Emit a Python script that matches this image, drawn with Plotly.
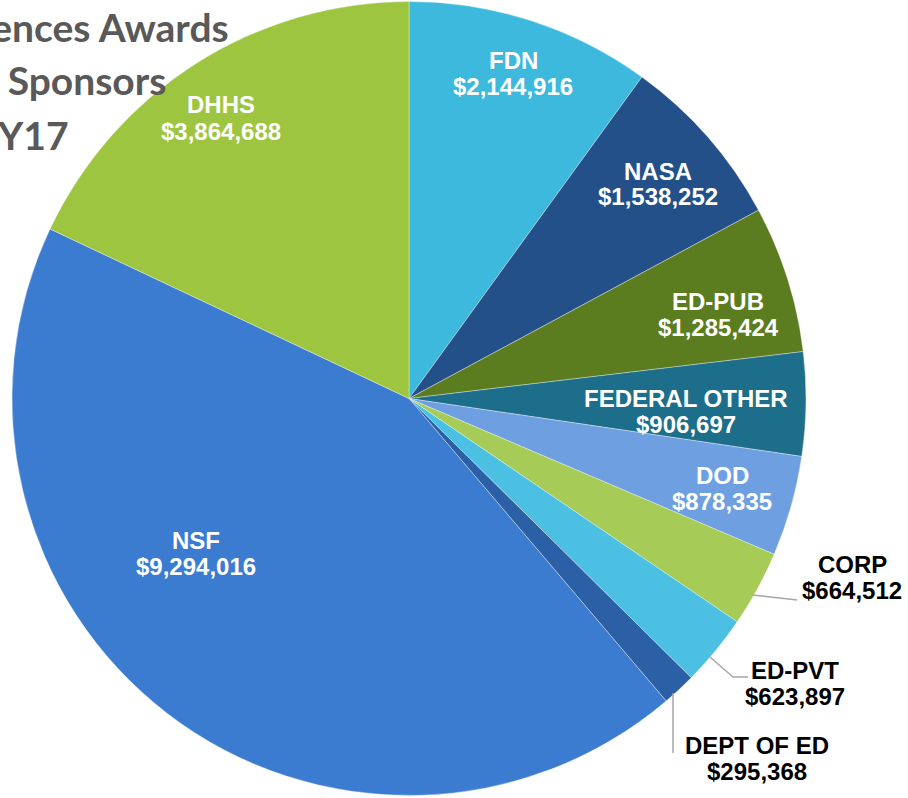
import plotly.graph_objects as go

W, H = 908, 798

# ---- data ----
sponsors = ["FDN", "NASA", "ED-PUB", "FEDERAL OTHER", "DOD", "CORP",
            "ED-PVT", "DEPT OF ED", "NSF", "DHHS"]
awards = [2144916, 1538252, 1285424, 906697, 878335, 664512,
          623897, 295368, 9294016, 3864688]
title_lines = ["College of Sciences Awards", "by Sponsors", "FY17"]

# ---- style ----
colors = ["#3DB9DD", "#24508A", "#5B7C1F", "#1D6E8A", "#6E9FE0", "#A6CB57",
          "#4CC0E2", "#2B5FA6", "#3B7BD0", "#9DC540"]
inside = [True, True, True, True, True, False, False, False, True, True]
# label block centres in page pixels
label_px = [(513, 73), (658, 184), (718, 314), (686, 411), (722, 488),
            (852, 577), (795, 683), (757, 758), (196, 553), (221, 118)]
leaders = [
    [(753, 595), (797, 600)],
    [(710, 657), (733, 677), (748, 677)],
    [(673, 693), (673, 753)],
]

cx, cy, R = 409, 398.5, 397


def px(x):
    return x / W


def py(y):
    return 1 - y / H


fig = go.Figure(go.Pie(
    labels=sponsors, values=awards, sort=False, direction="clockwise",
    rotation=0, textinfo="none", hoverinfo="label+value",
    marker=dict(colors=colors, line=dict(color="rgba(255,255,255,0.35)", width=1)),
    domain=dict(x=[px(cx - R), px(cx + R)],
                y=[max(0, py(cy + R)), min(1, py(cy - R))]),
    showlegend=False,
))

annotations = []
for name, val, ins, (lx, ly) in zip(sponsors, awards, inside, label_px):
    col = "white" if ins else "black"
    for txt, dy in ((name, -13), (f"${val:,}", 13)):
        annotations.append(dict(
            x=px(lx), y=py(ly + dy), xref="paper", yref="paper",
            text=f"<b>{txt}</b>", showarrow=False,
            xanchor="center", yanchor="middle", align="center",
            font=dict(family="Liberation Sans, Arial", size=24, color=col),
        ))

title_pos = [(231, 27), (168, 80.5), (71, 134.5)]
for t, (tx, ty) in zip(title_lines, title_pos):
    annotations.append(dict(
        x=px(tx), y=py(ty), xref="paper", yref="paper", text=f"<b>{t}</b>",
        showarrow=False, xanchor="right", yanchor="middle",
        font=dict(family="Lato", size=39, color="#595959"),
    ))

shapes = []
for pts in leaders:
    for (x0, y0), (x1, y1) in zip(pts[:-1], pts[1:]):
        shapes.append(dict(type="line", xref="paper", yref="paper",
                           x0=px(x0), y0=py(y0), x1=px(x1), y1=py(y1),
                           line=dict(color="#A6A6A6", width=1.5)))

fig.update_layout(
    width=W, height=H, margin=dict(l=0, r=0, t=0, b=0),
    paper_bgcolor="white", plot_bgcolor="white",
    annotations=annotations, shapes=shapes,
)

fig.write_html("out.html", config={"displayModeBar": False},
               post_script="document.body.style.margin='0';"
                           "document.body.style.overflow='hidden';")
